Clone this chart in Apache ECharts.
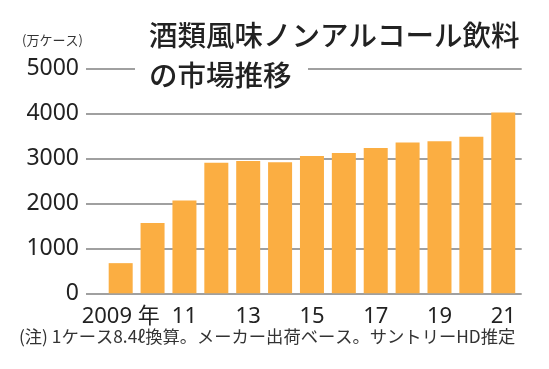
<!DOCTYPE html>
<html>
<head>
<meta charset="utf-8">
<script src="https://cdn.jsdelivr.net/npm/echarts@6/dist/echarts.min.js"></script>
<style>
html,body{margin:0;padding:0;background:#fff;}
#chart{width:549px;height:369px;}
</style>
</head>
<body>
<div id="chart"></div>
<script>
// Data
var years = [2009, 2010, 2011, 2012, 2013, 2014, 2015, 2016, 2017, 2018, 2019, 2020, 2021];
var volumes = [670, 1560, 2060, 2900, 2940, 2910, 3050, 3120, 3230, 3350, 3380, 3480, 4020];
var xTickYears = [2009, 2011, 2013, 2015, 2017, 2019, 2021];
var xTickLabels = ['2009 年', '11', '13', '15', '17', '19', '21'];
var yTicks = [0, 1000, 2000, 3000, 4000, 5000];
var titleLines = ['酒類風味ノンアルコール飲料', 'の市場推移'];
var unitLabel = '(万ケース)';
var noteText = '(注) 1ケース8.4ℓ換算。メーカー出荷ベース。サントリーHD推定';

var FONT = '"Noto Sans", "Noto Sans CJK JP", sans-serif';
var CJK = '"Noto Sans CJK JP", "Noto Sans", sans-serif';

var chart = echarts.init(document.getElementById('chart'), null, {renderer: 'canvas'});
var seriesData = years.map(function (y, i) { return [y, volumes[i]]; });

chart.setOption({
  animation: false,
  backgroundColor: '#ffffff',
  grid: {left: 86, right: 27.3, top: 68.3, bottom: 75.7, containLabel: false},
  xAxis: {
    type: 'value',
    min: 2007.912,
    max: 2021.579,
    axisLine: {show: false},
    axisTick: {show: false},
    splitLine: {show: false},
    axisLabel: {
      customValues: xTickYears,
      formatter: function (v) {
        var idx = xTickYears.indexOf(Math.round(v));
        return idx >= 0 ? xTickLabels[idx] : '';
      },
      margin: 12,
      fontSize: 22,
      fontFamily: FONT,
      color: '#222222'
    }
  },
  yAxis: {
    type: 'value',
    min: yTicks[0],
    max: yTicks[yTicks.length - 1],
    interval: 1000,
    axisLine: {show: false},
    axisTick: {show: false},
    splitLine: {show: true, lineStyle: {color: '#808080', width: 1.5}},
    axisLabel: {
      margin: 7,
      fontSize: 23,
      fontFamily: FONT,
      color: '#222222',
      formatter: function (v) { return String(v); }
    }
  },
  series: [{
    type: 'bar',
    data: seriesData,
    barWidth: 24,
    itemStyle: {color: '#FBAE42'},
    z: 2
  }],
  graphic: [
    {type: 'rect', z: 100, shape: {x: 135, y: 58, width: 173, height: 20}, style: {fill: '#ffffff'}},
    {type: 'text', z: 101, x: 149, y: 21, style: {text: titleLines[0], font: '500 28.5px ' + CJK, fill: '#222222'}},
    {type: 'text', z: 101, x: 149, y: 61, style: {text: titleLines[1], font: '500 28.5px ' + CJK, fill: '#222222'}},
    {type: 'text', z: 101, x: 22, y: 34, style: {text: unitLabel, font: '13px ' + CJK, fill: '#333333'}},
    {type: 'text', z: 101, x: 19, y: 328, style: {text: noteText, font: '17.3px ' + CJK, fill: '#333333'}}
  ]
});
</script>
</body>
</html>
